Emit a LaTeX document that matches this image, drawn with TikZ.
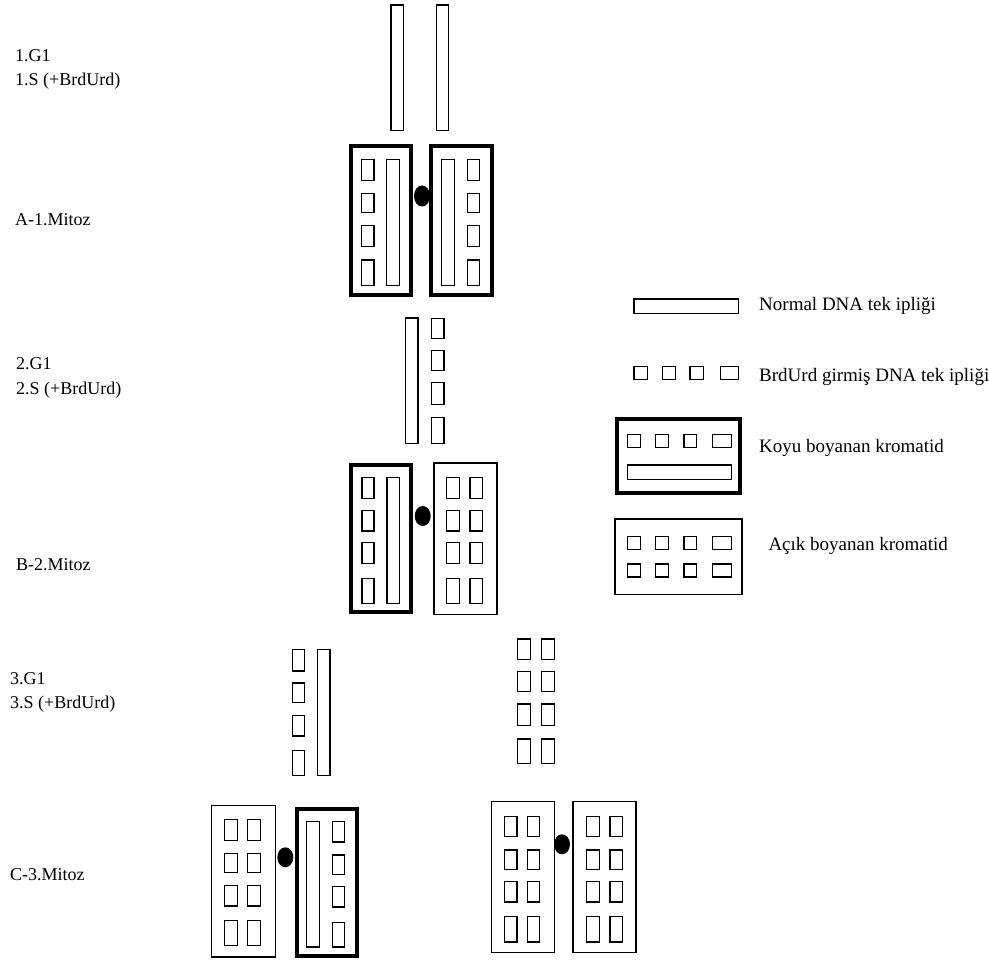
\documentclass[tikz,border=0pt]{standalone}
\usepackage{fontspec}
\setmainfont{Liberation Serif}
\begin{document}
\begin{tikzpicture}[x=1pt,y=-1pt,
  strandbox/.style={draw=black,line width=1.2pt,fill=white},
  darkbox/.style={draw=black,line width=4pt},
  lightbox/.style={draw=black,line width=1.2pt},
  cenmark/.style={fill=black},
  lab/.style={anchor=base west,inner sep=0pt,font=\fontsize{18}{20}\selectfont},
  leg/.style={anchor=base west,inner sep=0pt,font=\fontsize{19}{21}\selectfont}]
\useasboundingbox (0,0) rectangle (989,960);

% ---------- left labels ----------
\node[lab] (g1a) at (15,62) {1.G1};
\node[lab] (s1a) at (15,86) {1.S (+BrdUrd)};
\node[lab] (mA) at (15,226) {A-1.Mitoz};
\node[lab] (g2a) at (16,370) {2.G1};
\node[lab] (s2a) at (16,394) {2.S (+BrdUrd)};
\node[lab] (mB) at (16,570) {B-2.Mitoz};
\node[lab] (g3a) at (10,684) {3.G1};
\node[lab] (s3a) at (10,708) {3.S (+BrdUrd)};
\node[lab] (mC) at (10,880) {C-3.Mitoz};

% ---------- 1.G1 / 1.S strands ----------
\draw[strandbox] (391,5) rectangle (403.5,130.5);
\draw[strandbox] (436.5,5) rectangle (448.5,130.5);

% ---------- A-1.Mitoz ----------
\draw[darkbox] (351,146) rectangle (411.3,294.7);
\draw[darkbox] (431.3,146) rectangle (492,294.7);
\foreach \a/\b in {159.5/180.5,193.5/212.5,225.5/246.5,260/285.5}{
  \draw[strandbox] (361.5,\a) rectangle (374,\b);
  \draw[strandbox] (467.5,\a) rectangle (479.5,\b);
}
\draw[strandbox] (386.5,159.5) rectangle (399.5,285.5);
\draw[strandbox] (441.5,159.5) rectangle (454.5,285.5);
\fill[cenmark] (422,196) ellipse [x radius=8pt,y radius=10.5pt];

% ---------- 2.G1 / 2.S ----------
\draw[strandbox] (405.5,318) rectangle (418,443.5);
\foreach \a/\b in {318.5/338.5,350.5/370.5,382.5/404.5,417.5/443.5}{
  \draw[strandbox] (431.5,\a) rectangle (444,\b);
}

% ---------- B-2.Mitoz ----------
\draw[darkbox] (351,464.7) rectangle (410.7,612.3);
\draw[lightbox] (434,463) rectangle (497,614.3);
\foreach \a/\b in {477.5/498.5,510.5/531,542.5/563.5,578.5/603.5}{
  \draw[strandbox] (362,\a) rectangle (374,\b);
  \draw[strandbox] (446.5,\a) rectangle (459.5,\b);
  \draw[strandbox] (470,\a) rectangle (482.5,\b);
}
\draw[strandbox] (387,477.5) rectangle (399.5,603.5);
\fill[cenmark] (422.7,516) ellipse [x radius=8pt,y radius=10pt];

% ---------- 3.G1 / 3.S ----------
\foreach \a/\b in {649.5/671,683/702.5,715.5/736,750.5/775.5}{
  \draw[strandbox] (292.5,\a) rectangle (304.5,\b);
}
\draw[strandbox] (317.5,649.5) rectangle (330,775.5);
\foreach \a/\b in {639/659.5,671.5/691.5,704/725.5,739/763.5}{
  \draw[strandbox] (517.5,\a) rectangle (530.5,\b);
  \draw[strandbox] (541.5,\a) rectangle (554.5,\b);
}

% ---------- C-3.Mitoz (left pair) ----------
\draw[lightbox] (211.7,805.7) rectangle (275.3,957);
\foreach \a/\b in {819.5/840.5,853.5/872.5,885.5/906,920.5/945.5}{
  \draw[strandbox] (224.5,\a) rectangle (237.5,\b);
  \draw[strandbox] (247.5,\a) rectangle (260.5,\b);
}
\draw[darkbox] (296.7,809.3) rectangle (356.7,955.7);
\draw[strandbox] (306.5,821.5) rectangle (319.5,947);
\foreach \a/\b in {821.5/842,855/874.5,886.5/907,922.5/947}{
  \draw[strandbox] (332.5,\a) rectangle (344.5,\b);
}
\fill[cenmark] (285.3,857.3) ellipse [x radius=8pt,y radius=10pt];

% ---------- C-3.Mitoz (right pair) ----------
\draw[lightbox] (491.4,801.7) rectangle (554.3,952.6);
\draw[lightbox] (573,801.7) rectangle (636,952.6);
\foreach \a/\b in {816.5/836.5,850/869.5,881.5/902,916.5/942}{
  \draw[strandbox] (504.5,\a) rectangle (517,\b);
  \draw[strandbox] (527.5,\a) rectangle (539.5,\b);
  \draw[strandbox] (586.5,\a) rectangle (599.5,\b);
  \draw[strandbox] (610,\a) rectangle (622.5,\b);
}
\fill[cenmark] (562,844.3) ellipse [x radius=8pt,y radius=10pt];

% ---------- legend ----------
\draw[strandbox] (634,299) rectangle (738.5,313.5);
\node[leg] (l1) at (759,310.7) {Normal DNA tek ipliği};

\foreach \a/\b in {634/647.5,662.5/675.5,690/703.5,720.5/738.5}{
  \draw[strandbox] (\a,366.5) rectangle (\b,379.5);
}
\node[leg] (l2) at (759,381.7) {BrdUrd girmiş DNA tek ipliği};

\draw[darkbox] (617,419.3) rectangle (740.3,493);
\foreach \a/\b in {627.5/640.5,655.5/668.5,684/696.5,712.5/731.5}{
  \draw[strandbox] (\a,434.5) rectangle (\b,447.5);
}
\draw[strandbox] (627.5,465) rectangle (731.5,479.5);
\node[leg] (l3) at (759,452.7) {Koyu boyanan kromatid};

\draw[lightbox] (615,519) rectangle (742,594.3);
\foreach \a/\b in {627.5/640.5,655.5/668.5,684/696.5,712.5/731.5}{
  \draw[strandbox] (\a,536.5) rectangle (\b,549.5);
  \draw[strandbox] (\a,564) rectangle (\b,577);
}
\node[leg] (l4) at (768.3,550) {Açık boyanan kromatid};
\end{tikzpicture}
\end{document}
